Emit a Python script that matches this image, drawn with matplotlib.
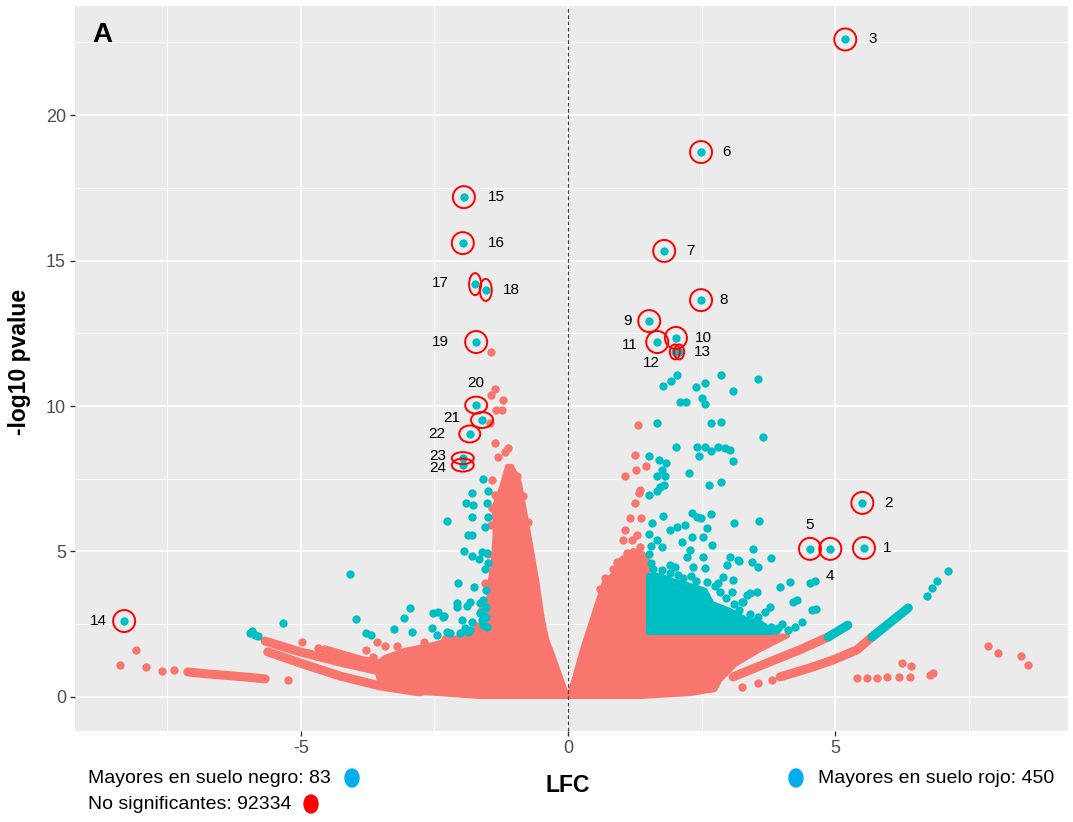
import matplotlib
matplotlib.use("Agg")
import matplotlib.pyplot as plt
from matplotlib.patches import Ellipse, Polygon

plt.rcParams['font.family'] = ['Liberation Sans', 'DejaVu Sans']
plt.rcParams['axes.unicode_minus'] = False

SALMON = "#F8766D"
CYAN = "#00BFC4"

# ---- data (LFC, -log10 pvalue) ----
# labelled genes 1..24
lab_ids = list(range(1, 25))
lab_x = [5.54, 5.51, 5.19, 4.91, 4.53, 2.49, 1.80, 2.49, 1.52, 2.02, 1.67, 2.00, 2.08,
         -8.31, -1.95, -1.97, -1.74, -1.54, -1.72, -1.72, -1.61, -1.84, -1.97, -1.97]
lab_y = [5.12, 6.67, 22.6, 5.09, 5.09, 18.73, 15.33, 13.64, 12.92, 12.34, 12.20, 11.86, 11.86,
         2.61, 17.18, 15.60, 14.19, 13.99, 12.20, 10.03, 9.52, 9.04, 8.21, 7.97]

# dense cloud of non significant genes (outline), left and right of 0
left_cone_x = [0, -0.15, -0.28, -0.39, -0.47, -0.58, -0.71, -0.81, -0.90, -1.05, -1.14, -1.25,
               -1.39, -1.37, -1.40, -1.48, -1.52, -1.74, -2.12, -2.58, -3.05, -3.43, -3.61,
               -3.52, -2.96, -1.65]
left_cone_y = [0, 0.76, 1.44, 1.96, 2.65, 4.02, 5.40, 6.43, 7.35, 7.94, 7.94, 7.22,
               6.53, 5.74, 4.81, 3.78, 2.65, 2.30, 2.03, 1.79, 1.62, 1.37, 1.10,
               0.41, 0.17, 0.0]
right_cone_x = [0, 0.13, 0.26, 0.41, 0.56, 0.67, 0.82, 0.97, 1.22, 1.40, 1.50, 1.50, 2.47,
                3.41, 4.12, 3.60, 3.13, 2.85, 2.75, 2.28, 1.35]
right_cone_y = [0, 0.76, 1.62, 2.47, 3.33, 3.92, 4.19, 4.71, 5.05, 4.95, 4.71, 2.20, 2.13,
                2.16, 2.10, 1.62, 1.10, 0.58, 0.24, 0.10, 0.0]

# streaks of non significant genes
band_a_x = [-5.67, -5.02, -4.27, -3.52, -2.77]
band_a_y = [1.92, 1.55, 1.20, 0.89, 0.58]
band_b_x = [-5.62, -5.02, -4.27, -3.52, -2.77]
band_b_y = [1.55, 1.17, 0.72, 0.38, 0.17]
band_c_x = [-4.55, -3.90, -3.15, -2.58]
band_c_y = [1.62, 1.27, 1.00, 0.86]
chain_x = [-7.12, -6.80, -6.40, -6.00, -5.67]
chain_y = [0.86, 0.80, 0.74, 0.68, 0.62]
arc_a_x = [3.09, 3.73, 4.34, 4.87]
arc_a_y = [0.69, 1.17, 1.62, 2.06]
arc_b_x = [3.97, 4.53, 4.96, 5.41, 5.69]
arc_b_y = [0.69, 1.00, 1.27, 1.62, 2.06]
# significant continuation of the streaks
arc_a_sig_x = [4.87, 5.24]
arc_a_sig_y = [2.06, 2.47]
arc_b_sig_x = [5.69, 6.37]
arc_b_sig_y = [2.06, 3.06]

# dense block of significant genes (outline)
block_x = [1.50, 1.50, 1.72, 1.95, 2.28, 2.57, 2.70, 3.03, 3.31, 3.69, 3.82]
block_y = [2.20, 4.19, 4.19, 4.02, 3.85, 3.68, 3.23, 2.99, 2.71, 2.47, 2.20]

# scattered non significant genes
ns_x = [-8.39, -8.09, -7.90, -7.60, -7.38, -5.24, -4.98, -4.85, -4.68, -3.78, -3.58, -3.43,
        -3.65, -1.44, -1.37, -1.44, -1.22, -1.35, -1.24, -1.46, -1.37, -1.12, -1.18, -1.31,
        -1.42, -1.37, -1.42, -1.45, -1.50, -1.55, -1.62, -1.70, -1.95, -2.30, -2.70, -3.20,
        -0.95, -0.85, -0.75,
        1.31, 1.25, 1.27, 1.07, 1.46, 1.33, 1.35, 1.25, 1.16, 1.37, 1.07, 1.20, 1.29, 1.03,
        0.92, 0.85, 0.70, 0.60, 1.10, 1.35,
        3.26, 3.56, 3.82, 5.41, 5.60, 5.79, 5.97, 6.20, 6.40, 6.25, 6.42, 6.78, 6.84,
        7.87, 8.05, 8.48, 8.61]
ns_y = [1.10, 1.62, 1.03, 0.89, 0.93, 0.58, 1.89, 1.51, 1.68, 1.62, 1.89, 1.75,
        1.37, 11.86, 10.58, 10.38, 10.21, 9.86, 9.86, 9.42, 8.73, 8.56, 8.42, 8.25,
        7.46, 6.94, 6.49, 5.90, 4.90, 3.90, 2.95, 2.45, 2.25, 2.00, 1.90, 1.75,
        7.60, 6.90, 6.00,
        9.35, 8.32, 7.80, 7.59, 7.94, 7.01, 7.11, 6.67, 6.15, 6.15, 5.74, 5.40, 5.57, 5.40,
        4.64, 4.40, 4.10, 3.70, 4.95, 5.15,
        0.34, 0.48, 0.58, 0.65, 0.65, 0.65, 0.69, 0.69, 0.69, 1.17, 1.07, 0.76, 0.82,
        1.75, 1.51, 1.41, 1.10]

# scattered significant genes
sig_x = [-4.08, -5.34, -5.92, -5.86, -5.81, -5.96, -3.97, -3.78, -3.69, -3.26, -3.07, -2.96,
         -2.92, -2.53, -2.43, -2.34, -2.55, -2.45, -2.27, -2.21, -2.02, -1.87, -2.32, -1.99,
         -1.80, -1.61, -1.52, -1.84, -1.93, -1.59, -1.54, -1.61, -1.54, -1.59, -1.65, -1.84,
         -1.89, -2.08, -2.08, -1.65, -1.76, -1.54, -2.06, -1.50, -1.55, -1.67, -1.80, -1.95,
         -1.61, -1.52, -1.80, -1.87, -1.55, -2.27, -1.80, -1.50, -1.91, -1.78, -1.52, -1.50,
         -1.80, -1.59,
         1.78, 1.93, 2.04, 2.40, 2.57, 2.87, 3.56, 3.09, 2.10, 2.21, 2.51, 2.57, 1.67, 2.68,
         2.87, 3.65, 2.02, 2.42, 2.57, 2.68, 2.81, 2.94, 3.03, 2.45, 3.09, 1.52, 1.70, 1.84,
         1.76, 1.67, 1.82, 2.27, 2.64, 2.87, 1.52, 1.67, 1.72, 1.80, 1.78, 2.32, 2.42, 2.49,
         2.68, 3.11, 3.58, 1.57, 1.91, 2.04, 2.19, 1.67, 2.60, 2.32, 2.13, 2.53, 2.70, 2.28,
         2.23, 1.76, 1.91, 2.34, 2.53, 2.57, 3.46, 3.03, 3.18, 3.45, 3.56, 2.98, 2.90, 3.09,
         3.07, 3.28, 3.41, 3.54, 3.80, 3.20, 3.97, 4.16, 4.53, 4.63, 4.21, 4.29, 4.57, 4.64,
         4.38, 4.25, 4.12, 3.35, 3.26, 3.78, 3.69, 3.56, 3.80, 3.93, 1.52, 1.55, 1.52, 1.55,
         1.60, 1.75, 1.90, 2.05, 2.15, 2.40, 2.60, 2.75, 2.85, 2.95, 3.10, 3.20, 3.40, 3.50,
         3.60, 3.90, 4.00, 2.00, 2.30, 2.80,
         6.72, 6.82, 6.91, 7.12]
sig_y = [4.23, 2.54, 2.27, 2.13, 2.10, 2.20, 2.68, 2.20, 2.13, 2.34, 2.71, 3.06,
         2.23, 2.89, 2.92, 2.75, 2.37, 2.13, 2.23, 2.20, 2.20, 2.23, 2.78, 2.65,
         2.58, 2.65, 2.41, 2.30, 2.37, 2.47, 2.75, 2.92, 3.09, 3.33, 3.23, 3.26,
         3.13, 3.23, 3.09, 2.89, 3.78, 3.68, 3.92, 4.60, 4.40, 4.74, 4.85, 5.02,
         4.98, 4.95, 5.57, 5.57, 5.84, 6.05, 6.19, 6.19, 6.67, 6.60, 6.67, 7.08,
         7.01, 7.49,
         10.69, 10.86, 11.07, 10.65, 10.79, 11.07, 10.93, 10.52, 10.14, 10.14, 10.27, 10.07, 9.42, 9.42,
         9.45, 8.93, 8.59, 8.59, 8.59, 8.45, 8.59, 8.56, 8.49, 8.28, 8.11, 8.28, 8.14, 8.04,
         7.80, 7.59, 7.59, 7.70, 7.29, 7.39, 6.94, 7.08, 7.22, 7.29, 6.22, 6.32, 6.19, 6.15,
         6.29, 5.98, 6.05, 5.98, 5.74, 5.84, 5.91, 5.40, 5.81, 5.50, 5.33, 5.50, 5.22, 5.05,
         4.81, 5.15, 4.54, 4.47, 4.81, 4.43, 5.09, 4.81, 4.71, 4.64, 4.47, 4.54, 4.12, 4.02,
         3.61, 3.26, 3.57, 3.61, 4.78, 4.67, 3.78, 3.95, 3.92, 3.99, 3.26, 3.33, 2.99, 3.02,
         2.58, 2.41, 2.30, 3.51, 3.26, 3.09, 2.92, 2.75, 2.41, 2.37, 5.60, 5.20, 4.90, 4.60,
         4.40, 4.35, 4.25, 4.20, 4.10, 4.00, 3.95, 3.80, 3.60, 3.40, 3.20, 3.00, 2.85, 2.60,
         2.50, 2.30, 2.50, 4.45, 4.15, 3.90,
         3.47, 3.75, 3.99, 4.33]

legend_texts = ["Mayores en suelo negro: 83", "No significantes: 92334", "Mayores en suelo rojo: 450"]

# ---- styles for the annotations (pixel offsets / circle sizes) ----
lab_off = [(23, 0), (26, 0), (27, 0), (0, -27), (0, 24), (25, 0), (26, 0), (23, 0), (-22, 0),
           (27, 0), (-27, -3), (-23, -11), (23, 0), (-26, 0), (33, 0), (34, 0), (-35, 1),
           (26, 0), (-36, 0), (0, 22), (-30, 2), (-33, 0), (-25, 2), (-25, -3)]
circ_px = [(22, 22)] * 11 + [(10, 15), (10, 15), (22, 22), (22, 22), (22, 22), (12, 22),
           (12, 22), (22, 22), (22, 17), (22, 16), (21, 17), (22, 12), (22, 13)]

PX_X = 53.4   # pixels per LFC unit
PX_Y = 29.1   # pixels per -log10 unit

fig = plt.figure(figsize=(10.73, 8.22), dpi=100)
ax = fig.add_axes([75 / 1073, 91 / 822, 993 / 1073, 725 / 822])
ax.set_facecolor("#EBEBEB")
for s in ax.spines.values():
    s.set_visible(False)

ax.set_xlim(-9.23, 9.36)
ax.set_ylim(-1.17, 23.75)
ax.set_xticks([-5, 0, 5])
ax.set_yticks([0, 5, 10, 15, 20])
ax.set_xticks([-7.5, -2.5, 2.5, 7.5], minor=True)
ax.set_yticks([2.5, 7.5, 12.5, 17.5, 22.5], minor=True)
ax.grid(which="major", color="white", lw=1.3)
ax.grid(which="minor", color="white", lw=0.7)
ax.set_axisbelow(True)
ax.tick_params(which="major", length=3.5, width=1, color="#333333", labelcolor="#4D4D4D",
               labelsize=13, pad=3)
ax.tick_params(which="minor", length=0)

# non significant cloud
for px_, py_ in [(left_cone_x, left_cone_y), (right_cone_x, right_cone_y)]:
    ax.add_patch(Polygon(list(zip(px_, py_)), closed=True, fc=SALMON, ec=SALMON,
                         lw=3, joinstyle="round", zorder=2))
for bx, by in [(band_a_x, band_a_y), (band_b_x, band_b_y), (band_c_x, band_c_y),
               (chain_x, chain_y), (arc_a_x, arc_a_y), (arc_b_x, arc_b_y)]:
    ax.plot(bx, by, color=SALMON, lw=6.5, solid_capstyle="round", solid_joinstyle="round", zorder=2)
ax.scatter(ns_x, ns_y, s=36, color=SALMON, lw=0, zorder=3)

# significant
ax.add_patch(Polygon(list(zip(block_x, block_y)), closed=True, fc=CYAN, ec=CYAN, lw=3,
                     joinstyle="round", zorder=4))
for bx, by in [(arc_a_sig_x, arc_a_sig_y), (arc_b_sig_x, arc_b_sig_y)]:
    ax.plot(bx, by, color=CYAN, lw=6.5, solid_capstyle="round", zorder=4)
ax.scatter(sig_x, sig_y, s=36, color=CYAN, lw=0, zorder=5)
ax.scatter(lab_x, lab_y, s=36, color=CYAN, lw=0, zorder=6)

ax.axvline(0, color="#444444", lw=0.9, ls=(0, (3, 2)), zorder=7)

# red circles and numbers
for i, n in enumerate(lab_ids):
    w, h = circ_px[i]
    ax.add_patch(Ellipse((lab_x[i], lab_y[i]), w / PX_X, h / PX_Y, fill=False, ec="red",
                         lw=1.4, zorder=8))
    dx, dy = lab_off[i]
    ax.annotate(str(n), (lab_x[i], lab_y[i]), xytext=(dx * 0.72, dy * 0.72),
                textcoords="offset points", ha="center", va="center", fontsize=11, zorder=9)

ax.text(0.028, 0.96, "A", transform=ax.transAxes, fontsize=20, fontweight="bold",
        va="center", ha="center")

fig.text(568 / 1073, (822 - 785) / 822, "LFC", fontsize=16.5, fontweight="bold",
         ha="center", va="center")
fig.text(20 / 1073, (822 - 362) / 822, "-log10 pvalue", fontsize=16.5, fontweight="bold",
         ha="center", va="center", rotation=90)

# legend-like text under the plot
fig.text(88 / 1073, (822 - 778) / 822, legend_texts[0], fontsize=14, va="center", ha="left")
fig.text(88 / 1073, (822 - 804) / 822, legend_texts[1], fontsize=14, va="center", ha="left")
fig.text(818 / 1073, (822 - 778) / 822, legend_texts[2], fontsize=14, va="center", ha="left")
for (px, py, c) in [(352, 778, "#00AEEF"), (311, 804, "#FF0000"), (796, 778, "#00AEEF")]:
    fig.add_artist(Ellipse((px / 1073, (822 - py) / 822), 14 / 1073, 18 / 822,
                           transform=fig.transFigure, color=c))

fig.savefig("out.png", dpi=100)
